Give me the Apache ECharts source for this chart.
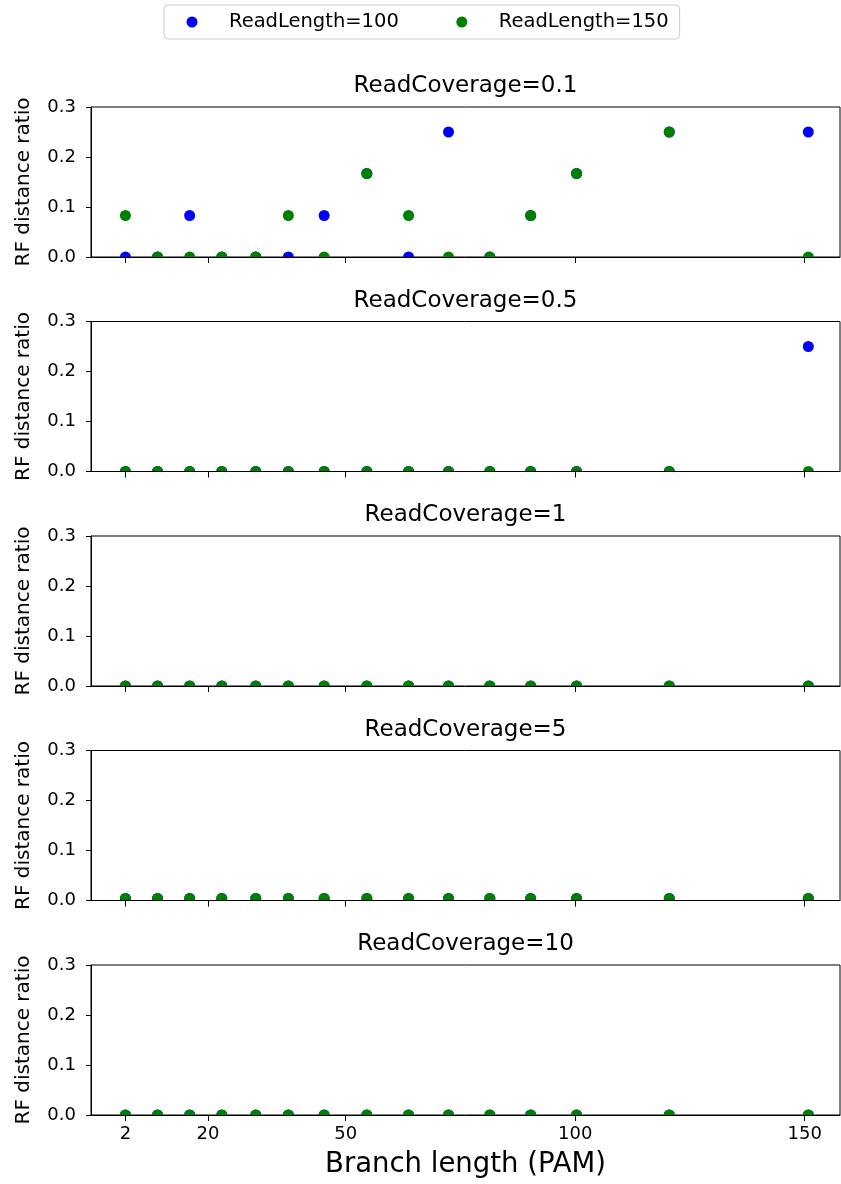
<!DOCTYPE html>
<html>
<head>
<meta charset="utf-8">
<script src="https://cdn.jsdelivr.net/npm/echarts@6/dist/echarts.min.js"></script>
<style>
html, body { margin: 0; padding: 0; background: #fff; }
#chart { width: 841px; height: 1184px; }
</style>
</head>
<body>
<div id="chart"></div>
<script>
// ---------------- data ----------------
const branchLengths = [2, 9, 16, 23, 30.4, 37.5, 45.3, 54.6, 63.7, 72.4, 81.4, 90.3, 100.3, 120.5, 150.8];
const coverageLabels = ['0.1', '0.5', '1', '5', '10'];
const seriesNames = ['ReadLength=100', 'ReadLength=150'];
const xTicks = [2, 20, 50, 100, 150];
const yTicks = [0, 0.1, 0.2, 0.3];

const rl100_cov0_1 = [0, 0, 0.083, 0, 0, 0, 0.083, 0.167, 0, 0.25, 0, 0.083, 0.167, 0.25, 0.25];
const rl150_cov0_1 = [0.083, 0, 0, 0, 0, 0.083, 0, 0.167, 0.083, 0, 0, 0.083, 0.167, 0.25, 0];
const rl100_cov0_5 = [0, 0, 0, 0, 0, 0, 0, 0, 0, 0, 0, 0, 0, 0, 0.25];
const rl150_cov0_5 = [0, 0, 0, 0, 0, 0, 0, 0, 0, 0, 0, 0, 0, 0, 0];
const rl100_cov1 = [0, 0, 0, 0, 0, 0, 0, 0, 0, 0, 0, 0, 0, 0, 0];
const rl150_cov1 = [0, 0, 0, 0, 0, 0, 0, 0, 0, 0, 0, 0, 0, 0, 0];
const rl100_cov5 = [0.004, 0.004, 0.004, 0.004, 0.004, 0.004, 0.004, 0.004, 0.004, 0.004, 0.004, 0.004, 0.004, 0.004, 0.004];
const rl150_cov5 = [0.004, 0.004, 0.004, 0.004, 0.004, 0.004, 0.004, 0.004, 0.004, 0.004, 0.004, 0.004, 0.004, 0.004, 0.004];
const rl100_cov10 = [0, 0, 0, 0, 0, 0, 0, 0, 0, 0, 0, 0, 0, 0, 0];
const rl150_cov10 = [0, 0, 0, 0, 0, 0, 0, 0, 0, 0, 0, 0, 0, 0, 0];

const rl100 = [rl100_cov0_1, rl100_cov0_5, rl100_cov1, rl100_cov5, rl100_cov10];
const rl150 = [rl150_cov0_1, rl150_cov0_5, rl150_cov1, rl150_cov5, rl150_cov10];

// ---------------- layout / style ----------------
const FONT = 'DejaVu Sans';
const COLORS = ['#0000ff', '#008000'];
const GRID_LEFT = 91, GRID_RIGHT_EDGE = 840, GRID_H = 150;
const gridTops = [107, 321.5, 536, 750.5, 965];

const grids = [], xAxes = [], yAxes = [], series = [], graphics = [];

gridTops.forEach((top, i) => {
  const last = i === gridTops.length - 1;
  grids.push({
    left: GRID_LEFT, width: GRID_RIGHT_EDGE - GRID_LEFT, top: top, height: GRID_H,
    show: true, borderColor: '#000', borderWidth: 1, backgroundColor: 'transparent'
  });
  xAxes.push({
    gridIndex: i, type: 'value', min: -5.5, max: 157.7, z: 20,
    axisLine: { show: true, onZero: false, lineStyle: { color: '#000', width: 1 } },
    axisTick: { show: true, customValues: xTicks, length: 6, lineStyle: { color: '#000', width: 1 } },
    axisLabel: { show: last, customValues: xTicks, fontSize: 18, fontFamily: FONT, color: '#000', margin: 10 },
    splitLine: { show: false },
    name: last ? 'Branch length (PAM)' : '',
    nameLocation: 'middle', nameGap: 36,
    nameTextStyle: { fontSize: 27.5, fontFamily: FONT, color: '#000' }
  });
  yAxes.push({
    gridIndex: i, type: 'value', min: yTicks[0], max: yTicks[yTicks.length - 1], interval: 0.1, z: 20,
    axisLine: { show: true, onZero: false, lineStyle: { color: '#000', width: 1 } },
    axisTick: { show: true, length: 5, lineStyle: { color: '#000', width: 1 } },
    axisLabel: { formatter: v => v.toFixed(1), fontSize: 18, fontFamily: FONT, color: '#000', margin: 15 },
    splitLine: { show: false },
    name: 'RF distance ratio', nameLocation: 'middle', nameRotate: 90, nameGap: 57,
    nameTextStyle: { fontSize: 20, fontFamily: FONT, color: '#000' }
  });
  [rl100[i], rl150[i]].forEach((vals, k) => {
    series.push({
      type: 'scatter', name: seriesNames[k], xAxisIndex: i, yAxisIndex: i, z: 2,
      symbol: 'circle', symbolSize: 11,
      itemStyle: { color: COLORS[k], opacity: 1 },
      emphasis: { disabled: true },
      data: branchLengths.map((x, j) => [x, vals[j]])
    });
  });
  // white mask below the bottom spine: clips markers like matplotlib does
  series.push({
    type: 'custom', xAxisIndex: i, yAxisIndex: i, z: 5, silent: true, clip: false,
    data: [[0, 0]],
    renderItem: (params, api) => {
      const cs = params.coordSys;
      return {
        type: 'rect',
        shape: { x: cs.x + 0.5, y: cs.y + cs.height + 0.5, width: cs.width - 1, height: 8 },
        style: { fill: '#fff' }
      };
    }
  });
  // title of each panel
  graphics.push({
    type: 'text', x: (GRID_LEFT + GRID_RIGHT_EDGE) / 2, y: top - 20.5,
    style: { text: 'ReadCoverage=' + coverageLabels[i], fontSize: 23, fontFamily: FONT, fill: '#000',
             align: 'center', verticalAlign: 'middle' }
  });
});

const option = {
  animation: false,
  backgroundColor: '#fff',
  legend: {
    data: seriesNames, left: 164, top: 5, orient: 'horizontal',
    icon: 'circle', itemWidth: 11, itemHeight: 11, itemGap: 57.5,
    padding: [7, 11, 7, 22.5],
    borderColor: '#ccc', borderWidth: 1, borderRadius: 4,
    textStyle: { fontSize: 19.5, fontFamily: FONT, color: '#000', padding: [0, 0, 0, 26.5] }
  },
  grid: grids, xAxis: xAxes, yAxis: yAxes, series: series,
  graphic: { elements: graphics }
};

const chart = echarts.init(document.getElementById('chart'), null, { renderer: 'canvas' });
chart.setOption(option);
</script>
</body>
</html>
